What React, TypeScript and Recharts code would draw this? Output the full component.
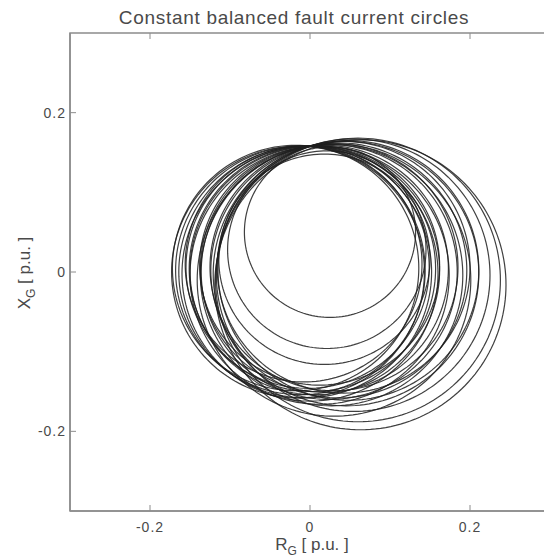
import React from "react";
import { LineChart, Line, XAxis, YAxis, ReferenceArea } from "recharts";

// Circle centres (R, X) and radii in p.u.
const centerR = [
  0.025, 0.021, 0.018, 0.012, -0.018, -0.012, -0.006, 0.0, 0.006, 0.012, 0.018,
  0.024, 0.03, 0.036, 0.042, 0.048, 0.054, 0.06, 0.063, 0.03, -0.008,
  -0.015, 0.003, 0.027, 0.045, -0.003,
];
const centerX = [
  0.05, 0.028, 0.016, 0.008, 0.005, 0.002, 0.0, -0.002, 0.002, -0.004, 0.004,
  0.0, 0.006, 0.002, 0.006, 0.002, -0.004, -0.01, -0.016, -0.01, 0.01,
  0.0, 0.004, -0.004, -0.002, 0.006,
];
const radius = [
  0.107, 0.124, 0.132, 0.15, 0.154, 0.156, 0.158, 0.16, 0.156, 0.162, 0.155,
  0.16, 0.155, 0.16, 0.158, 0.163, 0.171, 0.178, 0.182, 0.171, 0.148,
  0.158, 0.154, 0.164, 0.166, 0.152,
];

const axisTicks = [-0.2, 0, 0.2];
const axisDomain = [-0.3, 0.3];
const titleText = "Constant balanced fault current circles";

const FRAME = "#8c8c8c";
const TEXT = "#4a4a4a";
const LINE = "#1e1e1e";
const FONT = "'Liberation Sans', Arial, Helvetica, sans-serif";

// plot box size in px (chart 560x552, margins below)
const PLOT_W = 480;
const PLOT_H = 478;

const SEGMENTS = 180;

// Sample each circle outline so it can be drawn as a closed polyline.
const circles = centerR.map((cr, i) => {
  const pts: { x: number; y: number }[] = [];
  for (let k = 0; k <= SEGMENTS; k++) {
    const a = (2 * Math.PI * k) / SEGMENTS;
    pts.push({ x: cr + radius[i] * Math.cos(a), y: centerX[i] + radius[i] * Math.sin(a) });
  }
  return pts;
});

const fmt = (v: number) => (v === 0 ? "0" : String(v));

// bottom tick: label plus inward marks on the bottom and top edges
const BottomTick = (props: any) => {
  const { x, y, payload } = props;
  return (
    <g>
      <line x1={x} y1={y} x2={x} y2={y - 6} stroke={FRAME} strokeWidth={1} />
      <line x1={x} y1={y - PLOT_H} x2={x} y2={y - PLOT_H + 6} stroke={FRAME} strokeWidth={1} />
      <text
        x={x}
        y={y + 21}
        textAnchor="middle"
        fontSize={14}
        letterSpacing={1}
        fill={TEXT}
        fontFamily={FONT}
      >
        {fmt(payload.value)}
      </text>
    </g>
  );
};

// left tick: label plus inward marks on the left and right edges
const LeftTick = (props: any) => {
  const { x, y, payload } = props;
  return (
    <g>
      <line x1={x} y1={y} x2={x + 6} y2={y} stroke={FRAME} strokeWidth={1} />
      <line x1={x + PLOT_W} y1={y} x2={x + PLOT_W - 6} y2={y} stroke={FRAME} strokeWidth={1} />
      <text
        x={x - 4}
        y={y + 5}
        textAnchor="end"
        fontSize={14}
        letterSpacing={1}
        fill={TEXT}
        fontFamily={FONT}
      >
        {fmt(payload.value)}
      </text>
    </g>
  );
};

export default function App() {
  return (
    <div style={{ width: 544, height: 552, overflow: "hidden", position: "relative", background: "#fff" }}>
      <svg
        width={544}
        height={552}
        style={{ position: "absolute", left: 0, top: 0, pointerEvents: "none" }}
      >
        <text
          x={286}
          y={16}
          textAnchor="middle"
          fontSize={19}
          letterSpacing={0.7}
          fill={TEXT}
          fontFamily={FONT}
        >
          {titleText}
        </text>
        <text x={304} y={542} textAnchor="middle" fontSize={17} fill={TEXT} fontFamily={FONT}>
          R
          <tspan fontSize={12} dy={5}>G</tspan>
          <tspan dy={-5}> [ p.u. ]</tspan>
        </text>
        <text
          x={0}
          y={0}
          textAnchor="middle"
          fontSize={17}
          fill={TEXT}
          fontFamily={FONT}
          transform="translate(22 265) rotate(-90)"
        >
          X
          <tspan fontSize={12} dy={5}>G</tspan>
          <tspan dy={-5}> [ p.u. ]</tspan>
        </text>
      </svg>
      <div style={{ position: "absolute", left: 0, top: 0 }}>
        <LineChart width={560} height={552} margin={{ top: 25, right: 18, bottom: 0, left: 0 }}>
          <XAxis
            dataKey="x"
            type="number"
            domain={axisDomain}
            ticks={axisTicks}
            allowDataOverflow
            height={49}
            tickSize={0}
            tickMargin={0}
            tickLine={false}
            axisLine={{ stroke: FRAME, strokeWidth: 1.5 }}
            tick={<BottomTick />}
            interval={0}
          />
          <YAxis
            type="number"
            domain={axisDomain}
            ticks={axisTicks}
            allowDataOverflow
            width={62}
            tickSize={0}
            tickMargin={0}
            tickLine={false}
            axisLine={{ stroke: FRAME, strokeWidth: 1.5 }}
            tick={<LeftTick />}
            interval={0}
          />
          <ReferenceArea
            x1={axisDomain[0]}
            x2={axisDomain[1]}
            y1={axisDomain[0]}
            y2={axisDomain[1]}
            fill="none"
            stroke={FRAME}
            strokeWidth={1.5}
            ifOverflow="visible"
          />
          {circles.map((pts, i) => (
            <Line
              key={i}
              data={pts}
              dataKey="y"
              type="linear"
              stroke={LINE}
              strokeWidth={1.2}
              strokeOpacity={0.85}
              dot={false}
              activeDot={false}
              isAnimationActive={false}
            />
          ))}
        </LineChart>
      </div>
    </div>
  );
}
